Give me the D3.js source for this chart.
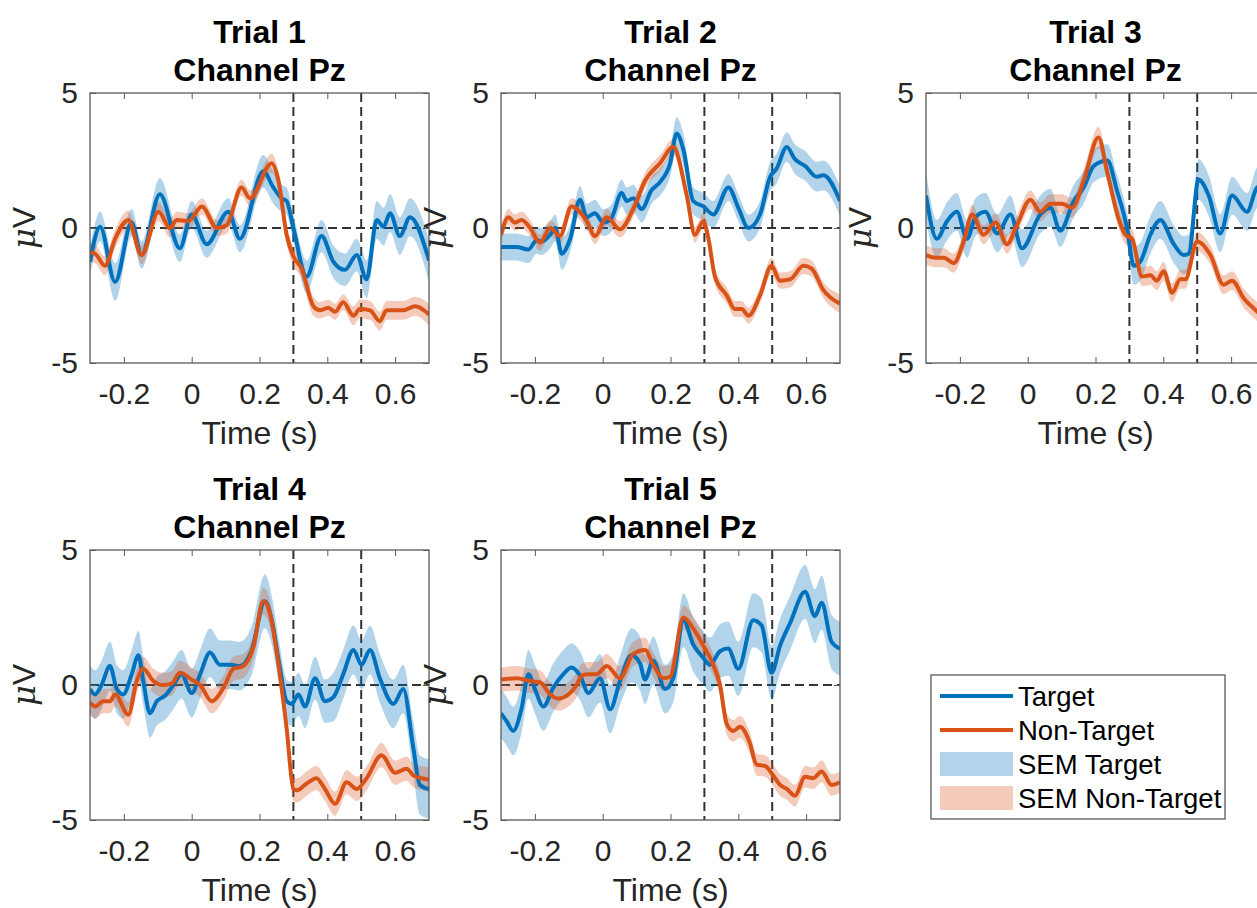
<!DOCTYPE html>
<html>
<head>
<meta charset="utf-8">
<script src="https://cdn.jsdelivr.net/npm/d3@7"></script>
<style>
  body { margin: 0; background: #fff; }
  svg { display: block; font-family: "Liberation Sans", Arial, Helvetica, sans-serif; }
</style>
</head>
<body>
<div id="chart"></div>
<script>
//-- data: [time (s), mean (µV), SEM]
const trial1Target = [[-0.30,-1.25,0.5],[-0.27,0.05,0.55],[-0.226,-2.0,0.7],[-0.177,0.2,0.5],[-0.148,-1.0,0.5],[-0.094,1.25,0.6],[-0.035,-0.75,0.5],[0.0,0.5,0.5],[0.044,-0.6,0.5],[0.108,0.6,0.5],[0.142,-0.4,0.5],[0.211,2.1,0.6],[0.241,1.5,0.6],[0.265,1.1,0.5],[0.28,1.0,0.5],[0.30,0.0,0.5],[0.339,-1.8,0.6],[0.383,-0.3,0.6],[0.418,-1.25,0.6],[0.452,-1.55,0.6],[0.487,-1.0,0.6],[0.516,-1.9,0.7],[0.546,0.3,0.7],[0.566,0.05,0.7],[0.585,0.55,0.7],[0.614,-0.3,0.7],[0.644,0.4,0.7],[0.70,-1.2,0.8]];
const trial1NonTarget = [[-0.30,-0.9,0.35],[-0.285,-0.95,0.35],[-0.256,-1.4,0.35],[-0.226,-0.4,0.35],[-0.187,0.3,0.35],[-0.148,-1.0,0.35],[-0.098,0.6,0.35],[-0.064,0.0,0.35],[-0.044,0.3,0.3],[-0.01,0.25,0.3],[0.03,0.8,0.3],[0.074,0.0,0.3],[0.103,0.1,0.3],[0.147,1.5,0.3],[0.172,1.1,0.3],[0.236,2.4,0.35],[0.256,1.75,0.35],[0.28,-0.25,0.35],[0.30,-1.05,0.35],[0.324,-1.5,0.35],[0.359,-2.9,0.35],[0.378,-3.05,0.3],[0.403,-2.95,0.3],[0.423,-3.1,0.3],[0.447,-2.75,0.3],[0.477,-3.25,0.35],[0.496,-3.0,0.35],[0.526,-3.05,0.35],[0.555,-3.45,0.35],[0.575,-3.05,0.35],[0.624,-3.05,0.35],[0.659,-2.9,0.35],[0.70,-3.2,0.4]];

const trial2Target = [[-0.30,-0.7,0.5],[-0.254,-0.7,0.5],[-0.219,-0.8,0.5],[-0.195,-0.45,0.5],[-0.18,-0.5,0.5],[-0.155,-0.25,0.5],[-0.14,0.0,0.5],[-0.121,-0.95,0.6],[-0.096,-0.4,0.5],[-0.067,1.05,0.5],[-0.047,0.4,0.5],[-0.023,0.55,0.5],[0.002,0.2,0.5],[0.025,0.35,0.5],[0.056,1.3,0.5],[0.071,1.0,0.5],[0.09,1.1,0.5],[0.115,0.7,0.5],[0.144,1.4,0.5],[0.169,1.7,0.5],[0.199,2.4,0.5],[0.218,3.5,0.6],[0.238,2.9,0.6],[0.267,1.0,0.5],[0.297,0.8,0.5],[0.326,0.5,0.5],[0.371,1.5,0.5],[0.40,0.75,0.5],[0.43,0.0,0.5],[0.464,0.5,0.5],[0.494,1.9,0.55],[0.513,2.2,0.55],[0.543,3.0,0.55],[0.567,2.55,0.55],[0.597,2.3,0.55],[0.631,1.9,0.55],[0.651,1.95,0.55],[0.70,1.0,0.55]];
const trial2NonTarget = [[-0.30,-0.25,0.3],[-0.278,0.4,0.3],[-0.259,0.2,0.3],[-0.239,0.3,0.3],[-0.214,0.0,0.3],[-0.185,-0.55,0.3],[-0.155,0.0,0.3],[-0.126,-0.3,0.3],[-0.092,0.8,0.3],[-0.047,0.25,0.3],[-0.023,-0.3,0.3],[0.012,0.4,0.3],[0.051,-0.05,0.3],[0.09,0.7,0.3],[0.125,1.75,0.3],[0.169,2.4,0.3],[0.208,3.0,0.3],[0.248,1.2,0.3],[0.272,-0.25,0.3],[0.297,0.25,0.3],[0.312,-0.4,0.3],[0.331,-1.8,0.3],[0.366,-2.5,0.3],[0.39,-3.0,0.3],[0.41,-3.0,0.3],[0.43,-3.25,0.3],[0.464,-2.5,0.3],[0.498,-1.4,0.3],[0.523,-1.95,0.3],[0.553,-1.9,0.3],[0.592,-1.4,0.3],[0.616,-1.5,0.3],[0.651,-2.3,0.3],[0.70,-2.8,0.35]];

const trial3Target = [[-0.30,1.2,0.9],[-0.268,-0.4,0.7],[-0.238,0.25,0.7],[-0.209,0.6,0.7],[-0.179,-0.4,0.7],[-0.154,0.4,0.7],[-0.125,0.6,0.7],[-0.09,-0.2,0.7],[-0.051,0.5,0.7],[-0.017,-0.75,0.7],[0.037,0.5,0.7],[0.067,0.75,0.7],[0.096,-0.1,0.6],[0.136,1.0,0.6],[0.165,1.5,0.6],[0.195,2.3,0.6],[0.235,2.5,0.6],[0.263,1.4,0.6],[0.293,0.0,0.6],[0.313,-1.4,0.7],[0.332,-1.25,0.7],[0.362,-0.25,0.7],[0.391,0.3,0.7],[0.431,-0.6,0.7],[0.46,-1.0,0.7],[0.475,-0.95,0.7],[0.504,1.8,0.75],[0.534,1.2,0.75],[0.568,-0.2,0.7],[0.603,1.2,0.7],[0.647,0.6,0.7],[0.677,1.5,0.75],[0.70,1.6,0.75]];
const trial3NonTarget = [[-0.30,-1.0,0.35],[-0.272,-1.1,0.35],[-0.248,-1.1,0.35],[-0.218,-1.3,0.35],[-0.189,-0.5,0.35],[-0.164,0.5,0.35],[-0.13,-0.25,0.35],[-0.095,0.2,0.35],[-0.061,-0.6,0.35],[-0.032,0.1,0.35],[0.008,1.05,0.35],[0.037,0.6,0.35],[0.067,0.9,0.35],[0.101,0.9,0.35],[0.131,0.75,0.35],[0.165,1.75,0.4],[0.209,3.35,0.4],[0.234,2.1,0.35],[0.268,0.35,0.35],[0.288,-0.25,0.35],[0.308,-0.4,0.35],[0.337,-1.8,0.35],[0.362,-1.75,0.35],[0.381,-1.95,0.35],[0.401,-1.6,0.35],[0.426,-2.4,0.35],[0.45,-1.9,0.35],[0.465,-1.9,0.35],[0.50,-0.5,0.35],[0.539,-1.0,0.35],[0.578,-2.1,0.35],[0.603,-1.95,0.35],[0.637,-2.6,0.35],[0.677,-3.1,0.35],[0.70,-3.4,0.35]];

const trial4Target = [[-0.30,-0.15,0.9],[-0.285,-0.35,0.9],[-0.266,0.0,0.9],[-0.241,0.7,0.9],[-0.221,-0.15,0.9],[-0.202,-0.35,0.9],[-0.177,0.4,0.9],[-0.157,1.1,0.9],[-0.143,0.15,0.9],[-0.123,-1.05,0.9],[-0.103,-0.6,0.9],[-0.079,-0.4,0.9],[-0.054,0.0,0.9],[-0.03,0.4,0.9],[0.0,-0.3,0.9],[0.025,0.4,0.9],[0.054,1.2,0.9],[0.083,0.75,0.9],[0.113,0.75,0.9],[0.142,0.7,0.9],[0.176,1.25,0.9],[0.216,3.1,1.0],[0.236,2.4,0.9],[0.26,0.65,0.8],[0.28,-0.6,0.8],[0.295,-0.7,0.8],[0.315,-0.35,0.8],[0.334,-0.8,0.8],[0.364,0.25,0.8],[0.393,-0.6,0.8],[0.418,-0.45,0.9],[0.447,0.4,0.9],[0.477,1.3,0.9],[0.501,0.75,0.9],[0.526,1.3,0.9],[0.555,0.25,0.9],[0.595,-0.7,0.9],[0.624,-0.15,0.9],[0.654,-2.35,1.0],[0.673,-3.7,1.1],[0.70,-3.85,1.1]];
const trial4NonTarget = [[-0.30,-0.65,0.45],[-0.285,-0.8,0.45],[-0.261,-0.6,0.45],[-0.241,-0.6,0.45],[-0.226,-0.35,0.45],[-0.187,-1.1,0.45],[-0.162,0.15,0.45],[-0.143,0.6,0.45],[-0.113,0.15,0.45],[-0.084,0.0,0.45],[-0.059,0.05,0.45],[-0.035,0.45,0.45],[0.0,0.2,0.45],[0.025,0.0,0.45],[0.059,-0.6,0.45],[0.094,-0.1,0.45],[0.123,0.6,0.45],[0.152,0.7,0.45],[0.182,1.4,0.45],[0.211,3.1,0.5],[0.231,2.65,0.5],[0.256,0.75,0.45],[0.28,-1.6,0.45],[0.30,-3.85,0.45],[0.31,-3.9,0.45],[0.339,-3.65,0.45],[0.368,-3.45,0.45],[0.393,-3.85,0.45],[0.423,-4.4,0.45],[0.457,-3.6,0.45],[0.487,-3.85,0.45],[0.516,-3.45,0.45],[0.56,-2.6,0.45],[0.6,-3.25,0.45],[0.634,-3.1,0.45],[0.654,-3.35,0.45],[0.70,-3.5,0.45]];

const trial5Target = [[-0.30,-1.05,0.9],[-0.283,-1.35,0.9],[-0.264,-1.7,0.9],[-0.239,-0.85,0.9],[-0.219,0.4,0.9],[-0.2,-0.15,0.9],[-0.175,-0.8,0.9],[-0.146,-0.1,0.9],[-0.116,0.4,0.9],[-0.092,0.65,0.9],[-0.067,0.35,0.9],[-0.042,-0.3,0.9],[-0.008,0.25,0.9],[0.022,-0.9,0.9],[0.051,0.15,0.9],[0.085,1.1,1.0],[0.11,0.8,1.0],[0.125,0.2,0.9],[0.149,0.9,0.9],[0.184,-0.15,0.9],[0.208,0.25,0.9],[0.238,2.4,1.0],[0.267,1.5,1.0],[0.297,1.0,1.0],[0.316,0.75,1.0],[0.346,1.25,1.0],[0.37,1.35,1.0],[0.40,0.6,1.0],[0.444,2.4,1.0],[0.469,2.2,1.0],[0.498,0.45,1.0],[0.523,1.45,1.0],[0.553,2.3,1.0],[0.597,3.45,1.0],[0.626,2.55,1.0],[0.646,3.05,1.0],[0.675,1.6,1.0],[0.70,1.35,1.0]];
const trial5NonTarget = [[-0.30,0.2,0.45],[-0.254,0.25,0.45],[-0.214,0.15,0.45],[-0.185,0.1,0.45],[-0.155,-0.35,0.45],[-0.131,-0.5,0.45],[-0.101,-0.35,0.45],[-0.077,0.0,0.45],[-0.062,0.35,0.45],[-0.042,0.4,0.45],[-0.018,0.4,0.45],[0.012,0.7,0.45],[0.051,0.25,0.45],[0.09,1.15,0.45],[0.125,1.3,0.45],[0.149,0.75,0.45],[0.179,0.25,0.45],[0.199,0.3,0.45],[0.238,2.5,0.45],[0.267,2.1,0.45],[0.297,1.45,0.45],[0.326,0.75,0.4],[0.346,0.0,0.4],[0.366,-1.45,0.4],[0.385,-1.7,0.4],[0.405,-1.55,0.4],[0.434,-2.15,0.4],[0.454,-2.95,0.4],[0.479,-3.0,0.4],[0.503,-3.35,0.4],[0.523,-3.7,0.4],[0.543,-3.85,0.4],[0.567,-4.1,0.4],[0.597,-3.4,0.4],[0.621,-3.45,0.4],[0.646,-3.2,0.4],[0.675,-3.7,0.4],[0.70,-3.6,0.4]];

const trialTitles = ["Trial 1", "Trial 2", "Trial 3", "Trial 4", "Trial 5"];
const channelName = "Channel Pz";
const targetSeries = [trial1Target, trial2Target, trial3Target, trial4Target, trial5Target];
const nonTargetSeries = [trial1NonTarget, trial2NonTarget, trial3NonTarget, trial4NonTarget, trial5NonTarget];
const xDomain = [-0.3, 0.7];
const yDomain = [-5, 5];
const xTicks = [-0.2, 0, 0.2, 0.4, 0.6];
const yTicks = [-5, 0, 5];
const markerTimes = [0.3, 0.5];
const legendLabels = ["Target", "Non-Target", "SEM Target", "SEM Non-Target"];

//-- layout
const width = 1257, height = 908;
const plotW = 339, plotH = 270;
const panelPos = [[90, 93], [501, 93], [926, 93], [90, 550], [501, 550]];
const blue = "#0072BD", orange = "#D95319";
const semAlpha = 0.3;
const textColor = "#262626", boxColor = "#5a5a5a";
const fontSans = "Liberation Sans, Arial, sans-serif";

const svg = d3.select("#chart").append("svg")
  .attr("width", width).attr("height", height);

//-- plain hyphen for negatives, like the original
const fmt = (d) => String(d);

panelPos.forEach(([left, top], i) => {
  const x = d3.scaleLinear().domain(xDomain).range([0, plotW]);
  const y = d3.scaleLinear().domain(yDomain).range([plotH, 0]);
  const g = svg.append("g").attr("transform", `translate(${left},${top})`);

  g.append("clipPath").attr("id", `clip${i}`)
    .append("rect").attr("width", plotW).attr("height", plotH);
  const plot = g.append("g").attr("clip-path", `url(#clip${i})`);

  //-- reference lines
  plot.append("line")
    .attr("x1", 0).attr("x2", plotW).attr("y1", y(0)).attr("y2", y(0))
    .attr("stroke", "#333").attr("stroke-width", 2).attr("stroke-dasharray", "9,5");
  plot.selectAll(".vmark").data(markerTimes).join("line")
    .attr("class", "vmark")
    .attr("x1", (d) => x(d)).attr("x2", (d) => x(d))
    .attr("y1", 0).attr("y2", plotH)
    .attr("stroke", "#333").attr("stroke-width", 2).attr("stroke-dasharray", "9,5");

  const area = d3.area().curve(d3.curveMonotoneX)
    .x((d) => x(d[0])).y0((d) => y(d[1] - d[2])).y1((d) => y(d[1] + d[2]));
  const line = d3.line().curve(d3.curveMonotoneX)
    .x((d) => x(d[0])).y((d) => y(d[1]));

  //-- SEM bands
  plot.append("path").datum(targetSeries[i]).attr("d", area)
    .attr("fill", blue).attr("fill-opacity", semAlpha);
  plot.append("path").datum(nonTargetSeries[i]).attr("d", area)
    .attr("fill", orange).attr("fill-opacity", semAlpha);

  //-- mean lines
  plot.append("path").datum(targetSeries[i]).attr("d", line)
    .attr("fill", "none").attr("stroke", blue).attr("stroke-width", 4)
    .attr("stroke-linejoin", "round");
  plot.append("path").datum(nonTargetSeries[i]).attr("d", line)
    .attr("fill", "none").attr("stroke", orange).attr("stroke-width", 4)
    .attr("stroke-linejoin", "round");

  //-- axes (inward ticks, boxed)
  const styleAxis = (a) => {
    a.select(".domain").remove();
    a.selectAll(".tick line").attr("stroke", boxColor);
    a.selectAll("text").attr("fill", textColor).attr("font-size", 30)
      .attr("font-family", fontSans);
  };
  g.append("g").attr("transform", `translate(0,${plotH})`)
    .call(d3.axisBottom(x).tickValues(xTicks).tickFormat(fmt).tickSizeInner(-6).tickSizeOuter(0).tickPadding(20))
    .call(styleAxis);
  g.append("g")
    .call(d3.axisTop(x).tickValues(xTicks).tickFormat("").tickSizeInner(-6).tickSizeOuter(0))
    .call(styleAxis);
  g.append("g")
    .call(d3.axisLeft(y).tickValues(yTicks).tickFormat(fmt).tickSizeInner(-6).tickSizeOuter(0).tickPadding(12))
    .call(styleAxis);
  g.append("g").attr("transform", `translate(${plotW},0)`)
    .call(d3.axisRight(y).tickValues(yTicks).tickFormat("").tickSizeInner(-6).tickSizeOuter(0))
    .call(styleAxis);

  g.append("rect").attr("width", plotW).attr("height", plotH)
    .attr("fill", "none").attr("stroke", boxColor).attr("stroke-width", 1.3);

  //-- titles
  g.append("text").attr("x", plotW / 2).attr("y", -50)
    .attr("text-anchor", "middle").attr("font-weight", "bold").attr("font-size", 32)
    .attr("fill", "#000").text(trialTitles[i]);
  g.append("text").attr("x", plotW / 2).attr("y", -12)
    .attr("text-anchor", "middle").attr("font-weight", "bold").attr("font-size", 32)
    .attr("fill", "#000").text(channelName);

  //-- axis labels
  g.append("text").attr("x", plotW / 2).attr("y", plotH + 81)
    .attr("text-anchor", "middle").attr("font-size", 32).attr("fill", textColor)
    .text("Time (s)");
  g.append("text")
    .attr("transform", `translate(${-55},${y(0)}) rotate(-90)`)
    .attr("text-anchor", "middle").attr("font-size", 32).attr("fill", textColor)
    .attr("font-family", "'DejaVu Serif', serif")
    .html(`<tspan font-style="italic">\u03bc</tspan><tspan font-family="${fontSans}">V</tspan>`);
});

//-- legend
const lg = svg.append("g").attr("transform", "translate(931,675)");
lg.append("rect").attr("width", 294).attr("height", 144)
  .attr("fill", "#fff").attr("stroke", boxColor).attr("stroke-width", 1.3);
const legendRows = d3.scaleBand().domain(legendLabels).range([4, 140]);
const swatch = [
  { kind: "line", color: blue },
  { kind: "line", color: orange },
  { kind: "patch", color: blue },
  { kind: "patch", color: orange }
];
legendLabels.forEach((label, k) => {
  const cy = legendRows(label) + legendRows.bandwidth() / 2;
  if (swatch[k].kind === "line") {
    lg.append("line").attr("x1", 9).attr("x2", 82).attr("y1", cy).attr("y2", cy)
      .attr("stroke", swatch[k].color).attr("stroke-width", 4);
  } else {
    lg.append("rect").attr("x", 9).attr("y", cy - 12).attr("width", 73).attr("height", 24)
      .attr("fill", swatch[k].color).attr("fill-opacity", semAlpha);
  }
  lg.append("text").attr("x", 87).attr("y", cy).attr("dy", "0.36em")
    .attr("font-size", 27.5).attr("fill", "#000").text(label);
});
</script>
</body>
</html>
